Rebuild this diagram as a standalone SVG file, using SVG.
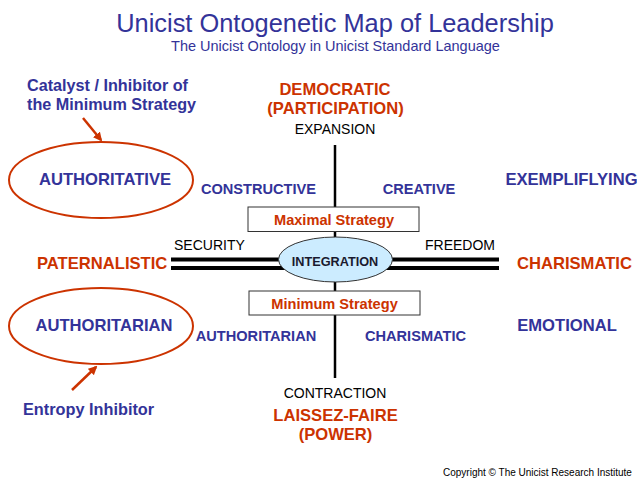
<svg xmlns="http://www.w3.org/2000/svg" width="637" height="479" viewBox="0 0 637 479">
<defs>
<style>
text{font-family:"Liberation Sans",Arial,sans-serif}
.blue{fill:#333399}
.org{fill:#CC3300}
.b{font-weight:bold}
.c{text-anchor:middle}
.t16{font-size:16.6px}
.t14{font-size:14.6px}
.n14{font-size:14px}
.axis{stroke:#000;stroke-width:4;fill:none}
.vaxis{stroke:#000;stroke-width:2.5;fill:none}
.box{fill:#fff;stroke:#333;stroke-width:1}
.oval{fill:#fff;stroke:#CC3300;stroke-width:2}
.arr{stroke:#CC3300;stroke-width:2.5;fill:none;marker-end:url(#ah)}
</style>
<marker id="ah" viewBox="0 0 10 10" refX="8" refY="5" markerWidth="3.6" markerHeight="3.6" orient="auto" markerUnits="strokeWidth">
<path d="M0,0 L10,5 L0,10 z" fill="#CC3300"/>
</marker>
</defs>
<rect width="637" height="479" fill="#fff"/>
<g id="title">
<text x="335" y="32" class="blue c" font-size="25.4">Unicist Ontogenetic Map of Leadership</text>
<text x="335.5" y="51" class="blue c" font-size="14.5">The Unicist Ontology in Unicist Standard Language</text>
</g>
<g id="connectors">
<line class="vaxis" x1="335" y1="145" x2="335" y2="378"/>
<line class="axis" x1="171" y1="259.5" x2="499" y2="259.5"/>
<line class="axis" x1="171" y1="268" x2="499" y2="268"/>
<line class="arr" x1="83" y1="118" x2="101" y2="140"/>
<line class="arr" x1="72" y1="390" x2="96" y2="367"/>
</g>
<g id="catalyst-label">
<text x="27" y="91" class="blue b" font-size="16.2">Catalyst / Inhibitor of</text>
<text x="27" y="110" class="blue b" font-size="16.2">the Minimum Strategy</text>
</g>
<g id="democratic">
<text x="335" y="95" class="org b c t16">DEMOCRATIC</text>
<text x="335.5" y="114" class="org b c t16">(PARTICIPATION)</text>
<text x="335" y="134" class="c n14">EXPANSION</text>
</g>
<g id="authoritative">
<ellipse class="oval" cx="101" cy="180" rx="92" ry="38"/>
<text x="105" y="185" class="blue b c t16">AUTHORITATIVE</text>
</g>
<g id="constructive"><text x="258.5" y="194" class="blue b c t14">CONSTRUCTIVE</text></g>
<g id="creative"><text x="419" y="194" class="blue b c t14">CREATIVE</text></g>
<g id="exemplifying"><text x="571.5" y="185" class="blue b c t16">EXEMPLIFLYING</text></g>
<g id="maximal-strategy">
<rect class="box" x="248" y="207" width="171" height="24.5"/>
<text x="334" y="225" class="org b c t14">Maximal Strategy</text>
</g>
<g id="security"><text x="174" y="250" class="n14">SECURITY</text></g>
<g id="freedom"><text x="425" y="250" class="n14">FREEDOM</text></g>
<g id="paternalistic"><text x="37" y="269" class="org b t16">PATERNALISTIC</text></g>
<g id="charismatic"><text x="517" y="269" class="org b t16">CHARISMATIC</text></g>
<g id="integration">
<ellipse cx="335.5" cy="259.5" rx="57" ry="22.5" fill="#CCECFF" stroke="#333" stroke-width="1"/>
<text x="335" y="266" class="b c" font-size="12.7" fill="#1a1a2e">INTEGRATION</text>
</g>
<g id="minimum-strategy">
<rect class="box" x="249" y="291" width="171" height="24"/>
<text x="334.5" y="309" class="org b c t14">Minimum Strategy</text>
</g>
<g id="authoritarian">
<ellipse class="oval" cx="101" cy="326" rx="92" ry="38"/>
<text x="104" y="331" class="blue b c t16">AUTHORITARIAN</text>
</g>
<g id="authoritarian-inner"><text x="256" y="341" class="blue b c t14">AUTHORITARIAN</text></g>
<g id="charismatic-inner"><text x="415.5" y="341" class="blue b c t14">CHARISMATIC</text></g>
<g id="emotional"><text x="567" y="331" class="blue b c t16">EMOTIONAL</text></g>
<g id="laissez-faire">
<text x="335" y="398" class="c n14">CONTRACTION</text>
<text x="335.5" y="421" class="org b c t16">LAISSEZ-FAIRE</text>
<text x="335.5" y="440" class="org b c t16">(POWER)</text>
</g>
<g id="entropy-label"><text x="23" y="415" class="blue b" font-size="16.3">Entropy Inhibitor</text></g>
<g id="copyright"><text x="443" y="476" font-size="10">Copyright © The Unicist Research Institute</text></g>
</svg>
